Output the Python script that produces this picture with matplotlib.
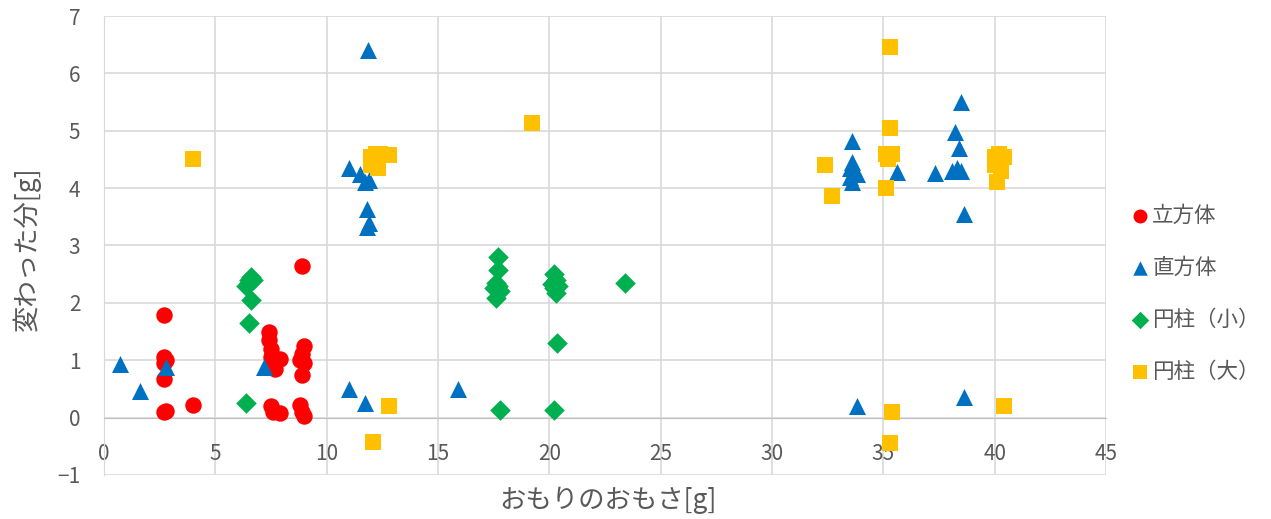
import numpy as np
import matplotlib.pyplot as plt

plt.rcParams['font.family'] = ['Noto Sans CJK JP', 'DejaVu Sans']

# 立方体
cube_x = [2.7, 2.7, 2.8, 2.7, 2.7, 2.7, 2.8, 4.0,
          7.4, 7.4, 7.5, 7.5, 7.6, 7.7, 7.9, 7.5, 7.6, 7.9,
          8.9, 9.0, 8.9, 8.8, 9.0, 8.9, 8.8, 8.9, 9.0]
cube_y = [1.78, 1.05, 1.0, 0.95, 0.68, 0.1, 0.12, 0.21,
          1.5, 1.35, 1.2, 1.05, 0.95, 0.85, 1.02, 0.2, 0.1, 0.08,
          2.65, 1.25, 1.1, 1.0, 0.95, 0.75, 0.22, 0.1, 0.03]

# 直方体
box_x = [0.7, 1.6, 2.8, 7.2, 11.0, 11.7, 15.9, 11.85,
         11.0, 11.5, 11.7, 11.9, 11.8, 11.9, 11.8,
         33.6, 33.6, 33.5, 33.7, 33.5, 33.8, 33.6, 33.8,
         35.6, 37.3, 38.2, 38.5, 38.4, 38.1, 38.3, 38.5, 38.6, 38.6]
box_y = [0.93, 0.47, 0.88, 0.88, 0.49, 0.26, 0.5, 6.4,
         4.35, 4.25, 4.1, 4.15, 3.63, 3.4, 3.32,
         4.83, 4.45, 4.35, 4.3, 4.2, 4.25, 4.1, 0.2,
         4.29, 4.26, 4.98, 5.5, 4.7, 4.3, 4.35, 4.3, 3.55, 0.36]

# 円柱（小）
small_x = [6.4, 6.5, 6.6, 6.7, 6.5, 6.6, 6.5, 6.4,
           17.7, 17.7, 17.6, 17.7, 17.5, 17.8, 17.6, 17.8,
           20.2, 20.3, 20.1, 20.4, 20.2, 20.3, 20.35, 20.2, 23.4]
small_y = [2.3, 2.4, 2.45, 2.4, 2.35, 2.05, 1.65, 0.25,
           2.8, 2.58, 2.35, 2.3, 2.25, 2.2, 2.08, 0.13,
           2.5, 2.4, 2.32, 2.3, 2.25, 2.18, 1.3, 0.13, 2.35]

# 円柱（大）
large_x = [4.0, 19.2, 12.0, 12.2, 12.4, 12.8, 12.1, 12.3, 12.0, 12.8, 12.1,
           32.4, 32.7, 35.3, 35.3, 35.1, 35.4, 35.2, 35.1, 35.4, 35.3,
           40.0, 40.2, 40.4, 40.0, 40.3, 40.1, 40.4]
large_y = [4.51, 5.14, 4.55, 4.6, 4.6, 4.57, 4.45, 4.35, 4.4, 0.2, -0.43,
           4.4, 3.86, 6.46, 5.05, 4.6, 4.6, 4.5, 4.0, 0.1, -0.45,
           4.55, 4.6, 4.55, 4.4, 4.3, 4.1, 0.2]

fig = plt.figure(figsize=(12.71, 5.19), dpi=100)
ax = fig.add_axes([0.0818, 0.085, 0.7884, 0.884])

ax.scatter(cube_x, cube_y, s=140, marker='o', color='#FF0000', label='立方体', zorder=3, linewidths=0)
ax.scatter(box_x, box_y, s=150, marker='^', color='#0070C0', label='直方体', zorder=3, linewidths=0)
ax.scatter(small_x, small_y, s=110, marker='D', color='#00B050', label='円柱（小）', zorder=3, linewidths=0)
ax.scatter(large_x, large_y, s=125, marker='s', color='#FFC000', label='円柱（大）', zorder=3, linewidths=0)

ax.set_xlim(0, 45)
ax.set_ylim(-1, 7)
ax.set_xticks(np.arange(0, 46, 5))
ax.set_yticks(np.arange(-1, 8, 1))
ax.grid(True, color='#D9D9D9', linewidth=1.2, zorder=0)
ax.set_axisbelow(True)

for s in ['top', 'right']:
    ax.spines[s].set_visible(False)
ax.spines['bottom'].set_position(('data', 0))
ax.spines['bottom'].set_color('#BFBFBF')
ax.spines['left'].set_color('#D9D9D9')
ax.tick_params(length=0, labelsize=15, colors='#595959')
ax.tick_params(axis='x', pad=18)
ax.tick_params(axis='y', pad=17)

fig.text(0.478, 0.036, 'おもりのおもさ[g]', ha='center', va='center', fontsize=19, color='#595959')
fig.text(0.021, 0.52, '変わった分[g]', ha='center', va='center', fontsize=19, color='#595959', rotation=90)

ax.legend(loc='center left', bbox_to_anchor=(0.882, 0.434), bbox_transform=fig.transFigure,
          frameon=False, fontsize=15.5, labelcolor='#595959', labelspacing=1.4,
          handletextpad=0.05, handlelength=1.0, markerscale=0.85, borderaxespad=0)

fig.savefig('out.png', dpi=100)
